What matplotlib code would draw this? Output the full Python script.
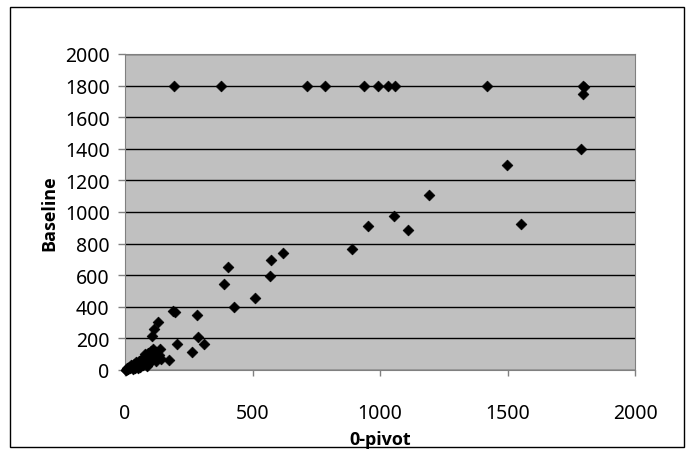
# Import libraries
import matplotlib
matplotlib.use("Agg")
import matplotlib.pyplot as plt
from matplotlib.patches import Rectangle

# Scatter data: 0-pivot time (x) vs baseline time (y)
pivot0 = [
    # timeouts in the baseline
    192, 376, 712, 783, 939, 994, 1033, 1057, 1421, 1796, 1800, 1796, 1790,
    # upper points
    1499, 1553, 1191, 1056, 1109, 952, 891, 618, 574, 569, 508,
    404, 387, 426, 187, 195, 284, 288, 310, 202, 262, 173, 141,
    # small instances
    130, 113, 104, 137, 121, 134,
    2, 5, 8, 12, 15, 20, 25, 30, 35, 40, 45, 50, 55, 60, 65, 70,
    75, 80, 85, 90, 95, 100, 105, 110,
    40, 60, 70, 85, 100, 120, 90, 50, 30, 75]
baseline = [
    1800, 1800, 1800, 1800, 1800, 1800, 1800, 1800, 1800, 1800, 1790, 1744, 1397,
    1297, 923, 1109, 976, 889, 914, 764, 738, 694, 595, 453,
    650, 544, 400, 373, 365, 347, 210, 167, 167, 116, 66, 70,
    305, 260, 214, 130, 113, 95,
    2, 3, 10, 8, 20, 15, 30, 22, 40, 35, 50, 40, 60, 45, 70, 55,
    80, 100, 90, 110, 75, 120, 95, 130,
    10, 20, 30, 25, 55, 60, 40, 15, 5, 45]

x_ticks = [0, 500, 1000, 1500, 2000]
y_ticks = [0, 200, 400, 600, 800, 1000, 1200, 1400, 1600, 1800, 2000]

plt.rcParams["font.family"] = ["Noto Sans", "DejaVu Sans"]

fig = plt.figure(figsize=(6.94, 4.56), dpi=100)
ax = fig.add_axes([125 / 694, 1 - 371 / 456, 510 / 694, 316 / 456])

# Grey plot area with black horizontal gridlines
ax.set_facecolor("#C0C0C0")
ax.set_axisbelow(True)
ax.yaxis.grid(True, color="black", linewidth=1.0)
ax.scatter(pivot0, baseline, marker="D", s=30, color="black",
           edgecolors="black", linewidths=0.5, clip_on=False, zorder=3)

ax.set_xlim(0, 2000)
ax.set_ylim(0, 2000)
ax.set_xticks(x_ticks)
ax.set_yticks(y_ticks)
ax.tick_params(axis="both", direction="out", width=1, color="#808080",
               labelsize=14)
ax.tick_params(axis="x", length=4, pad=20)
ax.tick_params(axis="y", length=5, pad=6)

for side in ["top", "right", "left", "bottom"]:
    ax.spines[side].set_color("#808080")

ax.set_xlabel("0-pivot", fontsize=13, fontweight="bold", labelpad=5,
              family=["Open Sans", "DejaVu Sans"])
ax.set_ylabel("Baseline", fontsize=13, fontweight="bold", labelpad=5,
              family=["Open Sans", "DejaVu Sans"])

# Outer chart border
fig.patches.append(Rectangle((10 / 694, 8 / 456), 674 / 694, 440 / 456,
                             transform=fig.transFigure, fill=False,
                             edgecolor="black", linewidth=1.0))

plt.savefig("out.png", dpi=100)
